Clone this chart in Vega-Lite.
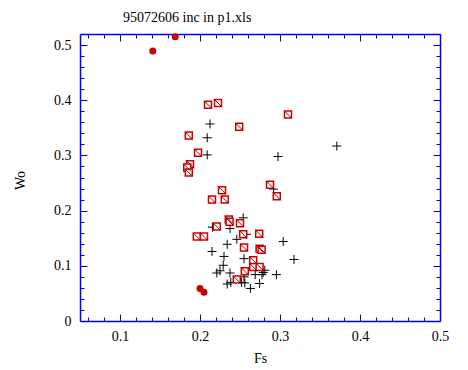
{
  "$schema": "https://vega.github.io/schema/vega-lite/v6.json",
  "width": 360,
  "height": 287,
  "autosize": "none",
  "padding": {"left": 80, "top": 34, "right": 28, "bottom": 49},
  "background": "white",
  "title": {"text": "95072606 inc in p1.xls", "anchor": "start", "dx": 110, "dy": 18, "offset": 15, "baseline": "alphabetic", "font": "Liberation Serif, Times New Roman, serif", "fontSize": 14, "fontWeight": "normal", "color": "black"},
  "config": {
    "font": "Liberation Serif, Times New Roman, serif",
    "view": {"stroke": null},
    "axis": {"domainColor": "#0000ff", "domainWidth": 1.5, "tickColor": "#0000ff", "tickWidth": 1, "grid": false, "labelFont": "Liberation Serif, Times New Roman, serif", "labelFontSize": 14, "labelColor": "black", "titleFont": "Liberation Serif, Times New Roman, serif", "titleFontSize": 14, "titleFontWeight": "normal", "titleColor": "black", "labelFlush": false, "labelOverlap": false, "labelBound": false}
  },
  "data": {"values": [
    {"Fs": 0.141, "Wo": 0.489, "series": "circle"},
    {"Fs": 0.169, "Wo": 0.515, "series": "circle"},
    {"Fs": 0.200, "Wo": 0.059, "series": "circle"},
    {"Fs": 0.205, "Wo": 0.052, "series": "circle"},
    {"Fs": 0.210, "Wo": 0.392, "series": "square"},
    {"Fs": 0.2225, "Wo": 0.395, "series": "square"},
    {"Fs": 0.310, "Wo": 0.374, "series": "square"},
    {"Fs": 0.249, "Wo": 0.352, "series": "square"},
    {"Fs": 0.186, "Wo": 0.336, "series": "square"},
    {"Fs": 0.1975, "Wo": 0.305, "series": "square"},
    {"Fs": 0.1875, "Wo": 0.284, "series": "square"},
    {"Fs": 0.184, "Wo": 0.278, "series": "square"},
    {"Fs": 0.186, "Wo": 0.269, "series": "square"},
    {"Fs": 0.2875, "Wo": 0.247, "series": "square"},
    {"Fs": 0.296, "Wo": 0.226, "series": "square"},
    {"Fs": 0.2275, "Wo": 0.237, "series": "square"},
    {"Fs": 0.215, "Wo": 0.220, "series": "square"},
    {"Fs": 0.231, "Wo": 0.220, "series": "square"},
    {"Fs": 0.236, "Wo": 0.184, "series": "square"},
    {"Fs": 0.237, "Wo": 0.180, "series": "square"},
    {"Fs": 0.250, "Wo": 0.177, "series": "square"},
    {"Fs": 0.221, "Wo": 0.171, "series": "square"},
    {"Fs": 0.254, "Wo": 0.157, "series": "square"},
    {"Fs": 0.274, "Wo": 0.158, "series": "square"},
    {"Fs": 0.196, "Wo": 0.153, "series": "square"},
    {"Fs": 0.205, "Wo": 0.153, "series": "square"},
    {"Fs": 0.255, "Wo": 0.133, "series": "square"},
    {"Fs": 0.2745, "Wo": 0.131, "series": "square"},
    {"Fs": 0.277, "Wo": 0.129, "series": "square"},
    {"Fs": 0.2665, "Wo": 0.110, "series": "square"},
    {"Fs": 0.2665, "Wo": 0.098, "series": "square"},
    {"Fs": 0.2745, "Wo": 0.098, "series": "square"},
    {"Fs": 0.256, "Wo": 0.090, "series": "square"},
    {"Fs": 0.246, "Wo": 0.075, "series": "square"},
    {"Fs": 0.2125, "Wo": 0.357, "series": "plus"},
    {"Fs": 0.209, "Wo": 0.332, "series": "plus"},
    {"Fs": 0.209, "Wo": 0.301, "series": "plus"},
    {"Fs": 0.2975, "Wo": 0.298, "series": "plus"},
    {"Fs": 0.371, "Wo": 0.317, "series": "plus"},
    {"Fs": 0.292, "Wo": 0.239, "series": "plus"},
    {"Fs": 0.254, "Wo": 0.187, "series": "plus"},
    {"Fs": 0.2155, "Wo": 0.170, "series": "plus"},
    {"Fs": 0.2375, "Wo": 0.1675, "series": "plus"},
    {"Fs": 0.258, "Wo": 0.157, "series": "plus"},
    {"Fs": 0.246, "Wo": 0.148, "series": "plus"},
    {"Fs": 0.234, "Wo": 0.139, "series": "plus"},
    {"Fs": 0.215, "Wo": 0.126, "series": "plus"},
    {"Fs": 0.230, "Wo": 0.117, "series": "plus"},
    {"Fs": 0.255, "Wo": 0.113, "series": "plus"},
    {"Fs": 0.304, "Wo": 0.144, "series": "plus"},
    {"Fs": 0.3175, "Wo": 0.1115, "series": "plus"},
    {"Fs": 0.229, "Wo": 0.101, "series": "plus"},
    {"Fs": 0.221, "Wo": 0.087, "series": "plus"},
    {"Fs": 0.225, "Wo": 0.091, "series": "plus"},
    {"Fs": 0.2375, "Wo": 0.087, "series": "plus"},
    {"Fs": 0.255, "Wo": 0.080, "series": "plus"},
    {"Fs": 0.269, "Wo": 0.084, "series": "plus"},
    {"Fs": 0.2775, "Wo": 0.084, "series": "plus"},
    {"Fs": 0.281, "Wo": 0.092, "series": "plus"},
    {"Fs": 0.279, "Wo": 0.088, "series": "plus"},
    {"Fs": 0.2955, "Wo": 0.084, "series": "plus"},
    {"Fs": 0.2745, "Wo": 0.068, "series": "plus"},
    {"Fs": 0.234, "Wo": 0.067, "series": "plus"},
    {"Fs": 0.2385, "Wo": 0.070, "series": "plus"},
    {"Fs": 0.252, "Wo": 0.070, "series": "plus"},
    {"Fs": 0.256, "Wo": 0.069, "series": "plus"},
    {"Fs": 0.263, "Wo": 0.059, "series": "plus"}
  ]},
  "layer": [
    {
      "transform": [{"filter": "datum.series === 'plus'"}],
      "mark": {"type": "point", "shape": "M-1,0H1M0,-1V1", "size": 81, "filled": false, "stroke": "black", "strokeWidth": 1, "opacity": 1},
      "encoding": {
        "x": {"field": "Fs", "type": "quantitative", "scale": {"domain": [0.05, 0.5], "nice": false, "zero": false},
          "axis": {"orient": "bottom", "title": "Fs", "titleX": 180, "titleY": 37, "titleBaseline": "middle", "titleAlign": "center",
            "labelFont": "Liberation Serif, Times New Roman, serif", "titleFont": "Liberation Serif, Times New Roman, serif",
            "values": [0.06,0.08,0.1,0.12,0.14,0.16,0.18,0.2,0.22,0.24,0.26,0.28,0.3,0.32,0.34,0.36,0.38,0.4,0.42,0.44,0.46,0.48,0.5],
            "tickSize": {"condition": {"test": "abs(datum.value*10 - round(datum.value*10)) < 0.001", "value": -7}, "value": -4},
            "labelPadding": 15, "labelBaseline": "top",
            "labelExpr": "abs(datum.value*10 - round(datum.value*10)) < 0.001 ? format(datum.value, '~g') : ''"}},
        "y": {"field": "Wo", "type": "quantitative", "scale": {"domain": [0, 0.52], "nice": false, "zero": false},
          "axis": {"orient": "left", "title": "Wo", "titleX": -60, "titleY": 146, "titleBaseline": "middle", "titleAlign": "center", "titleAngle": 270,
            "labelFont": "Liberation Serif, Times New Roman, serif", "titleFont": "Liberation Serif, Times New Roman, serif",
            "values": [0,0.02,0.04,0.06,0.08,0.1,0.12,0.14,0.16,0.18,0.2,0.22,0.24,0.26,0.28,0.3,0.32,0.34,0.36,0.38,0.4,0.42,0.44,0.46,0.48,0.5],
            "tickSize": {"condition": {"test": "abs(datum.value*10 - round(datum.value*10)) < 0.001", "value": -7}, "value": -4},
            "labelPadding": 16, "labelBaseline": "middle",
            "labelExpr": "abs(datum.value*10 - round(datum.value*10)) < 0.001 ? format(datum.value, '~g') : ''"}}
      }
    },
    {
      "transform": [{"filter": "datum.series === 'square'"}],
      "mark": {"type": "point", "shape": "M-1,-1H1V1H-1Z", "size": 49, "filled": true, "fill": "white", "stroke": "#cc0000", "strokeWidth": 1.5, "opacity": 1, "fillOpacity": 1},
      "encoding": {
        "x": {"field": "Fs", "type": "quantitative", "scale": {"domain": [0.05, 0.5], "nice": false, "zero": false}, "axis": null},
        "y": {"field": "Wo", "type": "quantitative", "scale": {"domain": [0, 0.52], "nice": false, "zero": false}, "axis": null}
      }
    },
    {
      "transform": [{"filter": "datum.series === 'square'"}],
      "mark": {"type": "point", "shape": "M-1,-1L1,1", "size": 49, "filled": false, "stroke": "#990000", "strokeWidth": 1, "opacity": 1},
      "encoding": {
        "x": {"field": "Fs", "type": "quantitative", "scale": {"domain": [0.05, 0.5], "nice": false, "zero": false}, "axis": null},
        "y": {"field": "Wo", "type": "quantitative", "scale": {"domain": [0, 0.52], "nice": false, "zero": false}, "axis": null}
      }
    },
    {
      "transform": [{"filter": "datum.series === 'circle'"}],
      "mark": {"type": "point", "shape": "circle", "size": 49, "filled": true, "color": "#cc0000", "opacity": 1},
      "encoding": {
        "x": {"field": "Fs", "type": "quantitative", "scale": {"domain": [0.05, 0.5], "nice": false, "zero": false},
          "axis": {"orient": "top", "title": null, "labels": false,
            "values": [0.06,0.08,0.1,0.12,0.14,0.16,0.18,0.2,0.22,0.24,0.26,0.28,0.3,0.32,0.34,0.36,0.38,0.4,0.42,0.44,0.46,0.48,0.5],
            "tickSize": {"condition": {"test": "abs(datum.value*10 - round(datum.value*10)) < 0.001", "value": -7}, "value": -4}}},
        "y": {"field": "Wo", "type": "quantitative", "scale": {"domain": [0, 0.52], "nice": false, "zero": false},
          "axis": {"orient": "right", "title": null, "labels": false,
            "values": [0,0.02,0.04,0.06,0.08,0.1,0.12,0.14,0.16,0.18,0.2,0.22,0.24,0.26,0.28,0.3,0.32,0.34,0.36,0.38,0.4,0.42,0.44,0.46,0.48,0.5],
            "tickSize": {"condition": {"test": "abs(datum.value*10 - round(datum.value*10)) < 0.001", "value": -7}, "value": -4}}}
      }
    }
  ],
  "resolve": {"axis": {"x": "independent", "y": "independent"}}
}
